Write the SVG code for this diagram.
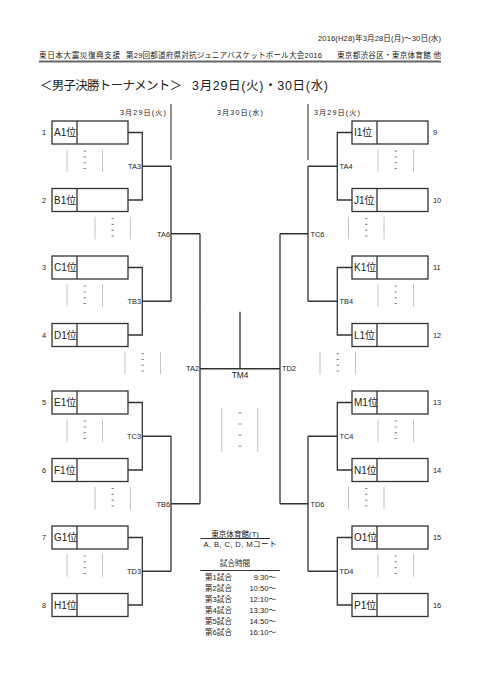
<svg xmlns="http://www.w3.org/2000/svg" width="481" height="680" viewBox="0 0 481 680">
<style>
text{font-family:"Liberation Sans","Noto Sans CJK JP",sans-serif;fill:#222}
.hd{font-size:7.6px}
.ti{font-size:12.5px}
.dl{font-size:7.2px}
.bx{fill:#fff;stroke:#333;stroke-width:1.3}
.dv{stroke:#333;stroke-width:1.3}
.lb{font-size:10px}
.nm{font-size:7.4px}
.cn{fill:none;stroke:#333;stroke-width:1.3}
.sep{stroke:#444;stroke-width:1.2}
.tl{font-size:7.4px}
.gl{stroke:#c4c4c4;stroke-width:1}
.ds{stroke:#777;stroke-width:0.9}
.inf{font-size:7.6px}
.ul{stroke:#333;stroke-width:1}
</style>
<defs>
<g id="blk">
<line class="gl" x1="0" y1="0" x2="0" y2="22.5"/>
<line class="gl" x1="35.5" y1="0" x2="35.5" y2="22.5"/>
<line class="ds" x1="16.5" y1="1.8" x2="19" y2="1.8"/>
<line class="ds" x1="16.5" y1="7.6" x2="19" y2="7.6"/>
<line class="ds" x1="16.5" y1="13.4" x2="19" y2="13.4"/>
<line class="ds" x1="16.5" y1="19.2" x2="19" y2="19.2"/>
</g>
</defs>
<g id="header">
<text class="hd" x="441" y="40.5" text-anchor="end" textLength="123">2016(H28)年3月28日(月)～30日(水)</text>
<text class="hd" x="39" y="58" textLength="81" fill="#111">東日本大震災復興支援</text>
<text class="hd" x="126" y="58" textLength="196">第29回都道府県対抗ジュニアバスケットボール大会2016</text>
<text class="hd" x="337" y="58" textLength="104">東京都渋谷区・東京体育館 他</text>
<line x1="39" y1="61.5" x2="441" y2="61.5" stroke="#666" stroke-width="2"/>
<text class="ti" x="40" y="90" textLength="142">＜男子決勝トーナメント＞</text>
<text class="ti" x="192" y="90" textLength="136">3月29日(火)・30日(水)</text>
<text class="dl" x="143" y="114.5" text-anchor="middle" textLength="46">3月29日(火)</text>
<text class="dl" x="240" y="114.5" text-anchor="middle" textLength="46">3月30日(水)</text>
<text class="dl" x="337" y="114.5" text-anchor="middle" textLength="46">3月29日(火)</text>
</g>
<g id="separators">
<line class="sep" x1="171" y1="104" x2="171" y2="160"/>
<line class="sep" x1="308" y1="104" x2="308" y2="160"/>
</g>
<g id="decor">
<use href="#blk" x="67" y="149.3"/>
<use href="#blk" x="95" y="216.8"/>
<use href="#blk" x="67" y="284.3"/>
<use href="#blk" x="125" y="351.8"/>
<use href="#blk" x="67" y="419.3"/>
<use href="#blk" x="95" y="486.8"/>
<use href="#blk" x="67" y="554.3"/>
<use href="#blk" x="378" y="149.3"/>
<use href="#blk" x="348.5" y="216.8"/>
<use href="#blk" x="378" y="284.3"/>
<use href="#blk" x="320" y="351.8"/>
<use href="#blk" x="378" y="419.3"/>
<use href="#blk" x="348.5" y="486.8"/>
<use href="#blk" x="378" y="554.3"/>
<line class="gl" x1="221.7" y1="407.7" x2="221.7" y2="452"/>
<line class="gl" x1="257.7" y1="407.7" x2="257.7" y2="452"/>
<line class="ds" x1="238.5" y1="413" x2="241.5" y2="413"/>
<line class="ds" x1="238.5" y1="424" x2="241.5" y2="424"/>
<line class="ds" x1="238.5" y1="435" x2="241.5" y2="435"/>
<line class="ds" x1="238.5" y1="446" x2="241.5" y2="446"/>
</g>
<g id="connectors">
<path class="cn" d="M128 132.5H142.3V200H128M142.3 166.25H171"/>
<path class="cn" d="M128 267.5H142.3V335H128M142.3 301.25H171"/>
<path class="cn" d="M128 402.5H142.3V470H128M142.3 436.25H171"/>
<path class="cn" d="M128 537.5H142.3V605H128M142.3 571.25H171"/>
<path class="cn" d="M171 166.25V301.25M171 233.75H200"/>
<path class="cn" d="M171 436.25V571.25M171 503.75H200"/>
<path class="cn" d="M200 233.75V503.75M200 368.75H280M240 311.7V368.75"/>
<path class="cn" d="M352 132.5H337.3V200H352M337.3 166.25H308"/>
<path class="cn" d="M352 267.5H337.3V335H352M337.3 301.25H308"/>
<path class="cn" d="M352 402.5H337.3V470H352M337.3 436.25H308"/>
<path class="cn" d="M352 537.5H337.3V605H352M337.3 571.25H308"/>
<path class="cn" d="M308 166.25V301.25M308 233.75H280"/>
<path class="cn" d="M308 436.25V571.25M308 503.75H280"/>
<path class="cn" d="M280 233.75V503.75"/>
</g>
<g id="game-labels">
<text class="tl" x="141" y="169" text-anchor="end">TA3</text>
<text class="tl" x="141" y="304" text-anchor="end">TB3</text>
<text class="tl" x="141" y="439" text-anchor="end">TC3</text>
<text class="tl" x="141" y="574" text-anchor="end">TD3</text>
<text class="tl" x="170" y="236.5" text-anchor="end">TA6</text>
<text class="tl" x="170" y="506.5" text-anchor="end">TB6</text>
<text class="tl" x="199" y="371" text-anchor="end">TA2</text>
<text class="tl" x="339.5" y="169">TA4</text>
<text class="tl" x="339.5" y="304">TB4</text>
<text class="tl" x="339.5" y="439">TC4</text>
<text class="tl" x="339.5" y="574">TD4</text>
<text class="tl" x="310.5" y="236.5">TC6</text>
<text class="tl" x="310.5" y="506.5">TD6</text>
<text class="tl" x="282" y="371">TD2</text>
<text x="240" y="377.5" text-anchor="middle" font-size="8.4">TM4</text>
</g>
<g id="A1"><rect class="bx" x="52" y="121" width="76" height="23"/><line class="dv" x1="77" y1="121" x2="77" y2="144"/><text class="lb" x="54" y="136">A1位</text><text class="nm" x="44" y="135.2" text-anchor="middle">1</text></g>
<g id="B1"><rect class="bx" x="52" y="188.5" width="76" height="23"/><line class="dv" x1="77" y1="188.5" x2="77" y2="211.5"/><text class="lb" x="54" y="203.5">B1位</text><text class="nm" x="44" y="202.7" text-anchor="middle">2</text></g>
<g id="C1"><rect class="bx" x="52" y="256" width="76" height="23"/><line class="dv" x1="77" y1="256" x2="77" y2="279"/><text class="lb" x="54" y="271">C1位</text><text class="nm" x="44" y="270.2" text-anchor="middle">3</text></g>
<g id="D1"><rect class="bx" x="52" y="323.5" width="76" height="23"/><line class="dv" x1="77" y1="323.5" x2="77" y2="346.5"/><text class="lb" x="54" y="338.5">D1位</text><text class="nm" x="44" y="337.7" text-anchor="middle">4</text></g>
<g id="E1"><rect class="bx" x="52" y="391" width="76" height="23"/><line class="dv" x1="77" y1="391" x2="77" y2="414"/><text class="lb" x="54" y="406">E1位</text><text class="nm" x="44" y="405.2" text-anchor="middle">5</text></g>
<g id="F1"><rect class="bx" x="52" y="458.5" width="76" height="23"/><line class="dv" x1="77" y1="458.5" x2="77" y2="481.5"/><text class="lb" x="54" y="473.5">F1位</text><text class="nm" x="44" y="472.7" text-anchor="middle">6</text></g>
<g id="G1"><rect class="bx" x="52" y="526" width="76" height="23"/><line class="dv" x1="77" y1="526" x2="77" y2="549"/><text class="lb" x="54" y="541">G1位</text><text class="nm" x="44" y="540.2" text-anchor="middle">7</text></g>
<g id="H1"><rect class="bx" x="52" y="593.5" width="76" height="23"/><line class="dv" x1="77" y1="593.5" x2="77" y2="616.5"/><text class="lb" x="54" y="608.5">H1位</text><text class="nm" x="44" y="607.7" text-anchor="middle">8</text></g>
<g id="I1"><rect class="bx" x="352" y="121" width="76" height="23"/><line class="dv" x1="377" y1="121" x2="377" y2="144"/><text class="lb" x="354" y="136">I1位</text><text class="nm" x="433" y="135.2">9</text></g>
<g id="J1"><rect class="bx" x="352" y="188.5" width="76" height="23"/><line class="dv" x1="377" y1="188.5" x2="377" y2="211.5"/><text class="lb" x="354" y="203.5">J1位</text><text class="nm" x="433" y="202.7">10</text></g>
<g id="K1"><rect class="bx" x="352" y="256" width="76" height="23"/><line class="dv" x1="377" y1="256" x2="377" y2="279"/><text class="lb" x="354" y="271">K1位</text><text class="nm" x="433" y="270.2">11</text></g>
<g id="L1"><rect class="bx" x="352" y="323.5" width="76" height="23"/><line class="dv" x1="377" y1="323.5" x2="377" y2="346.5"/><text class="lb" x="354" y="338.5">L1位</text><text class="nm" x="433" y="337.7">12</text></g>
<g id="M1"><rect class="bx" x="352" y="391" width="76" height="23"/><line class="dv" x1="377" y1="391" x2="377" y2="414"/><text class="lb" x="354" y="406">M1位</text><text class="nm" x="433" y="405.2">13</text></g>
<g id="N1"><rect class="bx" x="352" y="458.5" width="76" height="23"/><line class="dv" x1="377" y1="458.5" x2="377" y2="481.5"/><text class="lb" x="354" y="473.5">N1位</text><text class="nm" x="433" y="472.7">14</text></g>
<g id="O1"><rect class="bx" x="352" y="526" width="76" height="23"/><line class="dv" x1="377" y1="526" x2="377" y2="549"/><text class="lb" x="354" y="541">O1位</text><text class="nm" x="433" y="540.2">15</text></g>
<g id="P1"><rect class="bx" x="352" y="593.5" width="76" height="23"/><line class="dv" x1="377" y1="593.5" x2="377" y2="616.5"/><text class="lb" x="354" y="608.5">P1位</text><text class="nm" x="433" y="607.7">16</text></g>
<g id="info">
<text class="inf" x="235" y="536.5" text-anchor="middle">東京体育館(T)</text>
<line class="ul" x1="200.5" y1="538.5" x2="270" y2="538.5"/>
<text class="inf" x="240" y="547" text-anchor="middle" textLength="73">A, B, C, D, Mコート</text>
<text class="inf" x="235" y="566" text-anchor="middle">試合時間</text>
<line class="ul" x1="200" y1="570.5" x2="280" y2="570.5"/>
<text class="inf" x="205" y="580">第1試合</text><text class="inf" x="276" y="580" text-anchor="end">9:30～</text>
<text class="inf" x="205" y="591">第2試合</text><text class="inf" x="276" y="591" text-anchor="end">10:50～</text>
<text class="inf" x="205" y="602">第3試合</text><text class="inf" x="276" y="602" text-anchor="end">12:10～</text>
<text class="inf" x="205" y="613">第4試合</text><text class="inf" x="276" y="613" text-anchor="end">13:30～</text>
<text class="inf" x="205" y="624">第5試合</text><text class="inf" x="276" y="624" text-anchor="end">14:50～</text>
<text class="inf" x="205" y="635">第6試合</text><text class="inf" x="276" y="635" text-anchor="end">16:10～</text>
</g>
</svg>
